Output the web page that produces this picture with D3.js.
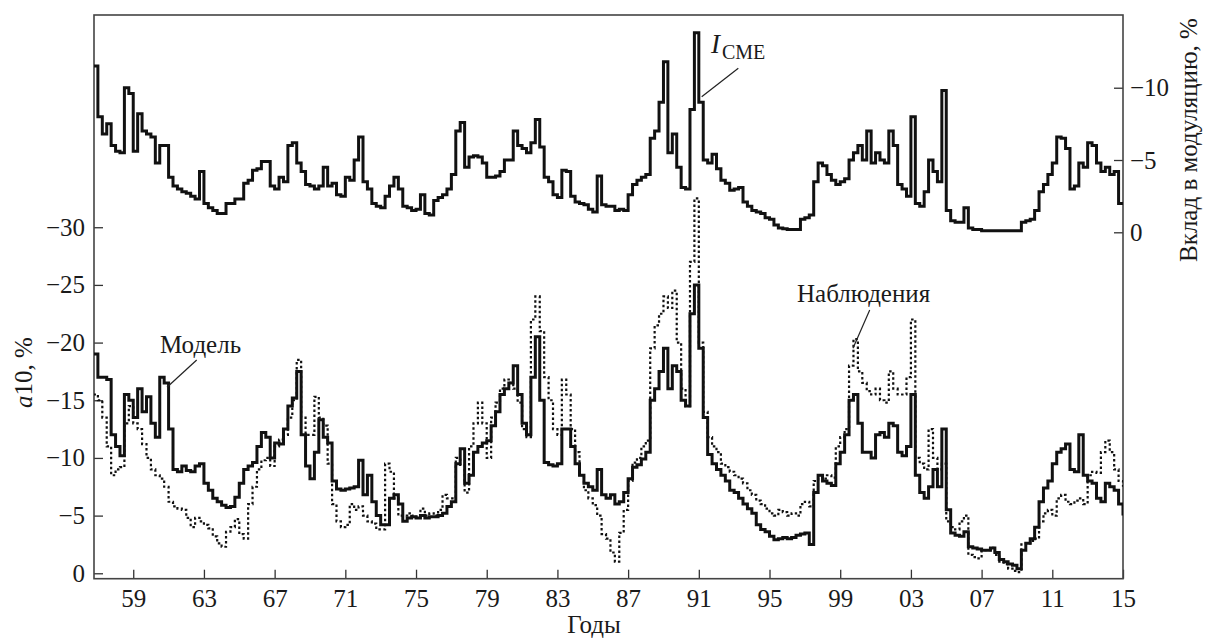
<!DOCTYPE html>
<html><head><meta charset="utf-8">
<script src="https://cdn.jsdelivr.net/npm/d3@7"></script>
<style>
body{margin:0;background:#fff}
svg text{font-family:"Liberation Serif","DejaVu Serif","Noto Serif","Times New Roman",Times,serif !important;fill:#1a1a1a}
</style>
</head><body>
<svg id="c" width="1208" height="641"></svg>
<script>
// ---- data (quarterly samples starting at 1956.75) ----
const startYear = 1956.75, stepYear = 0.25;
const modelValues = [
 -19.0,
 -17.0,-17.0,-16.8,-12.0,  -11.0,-10.2,-15.5,-15.0,  -13.5,-16.0,-14.0,-15.3,  -13.0,-11.8,-17.0,-16.5, // 57-60
 -12.5,-9.0,-8.8,-9.3,  -8.9,-8.8,-9.3,-9.5,  -7.8,-7.2,-6.5,-6.2,  -5.9,-5.7,-5.8,-6.6,               // 61-64
 -7.8,-9.0,-9.3,-9.6,  -11.0,-12.2,-11.8,-10.0,  -11.3,-11.2,-12.5,-14.5,  -15.2,-17.5,-12.0,-9.3,     // 65-68
 -8.2,-10.5,-13.3,-11.8,  -11.3,-8.0,-7.3,-7.2,  -7.3,-7.4,-7.5,-9.8,  -6.8,-8.5,-6.2,-5.0,           // 69-72
 -4.2,-4.2,-6.5,-6.8,  -6.0,-4.5,-4.8,-4.9,  -4.8,-5.0,-4.8,-4.9,  -4.9,-5.0,-5.2,-5.8,               // 73-76
 -6.2,-9.5,-10.8,-7.8,  -8.5,-10.5,-11.0,-11.3,  -11.5,-12.8,-14.0,-15.5,  -16.0,-16.5,-18.0,-15.5,   // 77-80
 -13.0,-12.0,-17.0,-20.5,  -15.0,-9.6,-9.4,-9.3,  -9.5,-12.5,-12.5,-11.0,  -9.5,-8.5,-7.8,-7.5,       // 81-84
 -7.2,-9.0,-6.8,-6.5,  -6.8,-6.0,-6.2,-7.0,  -8.2,-9.2,-9.4,-9.9,  -10.5,-15.0,-16.0,-17.5,          // 85-88
 -19.5,-16.0,-18.0,-17.5,  -15.0,-14.5,-22.5,-25.0,  -19.5,-13.5,-10.3,-9.5,  -9.0,-8.5,-8.0,-7.2,    // 89-92
 -7.0,-6.5,-6.0,-5.6,  -5.2,-4.2,-3.8,-3.6,  -3.2,-2.9,-3.0,-3.1,  -3.0,-3.1,-3.3,-3.4,               // 93-96
 -3.5,-2.5,-7.0,-8.5,  -8.0,-7.8,-7.6,-9.5,  -10.5,-12.0,-15.0,-15.5,  -13.0,-10.5,-10.5,-10.0,       // 97-00
 -12.0,-12.2,-11.8,-13.0,  -12.8,-10.5,-10.2,-11.0,  -15.5,-8.5,-7.0,-6.5,  -7.5,-9.0,-7.5,-12.5,     // 01-04
 -5.5,-3.5,-3.3,-3.2,  -3.6,-2.3,-2.2,-2.1,  -2.0,-2.0,-2.2,-1.8,  -1.2,-1.0,-0.8,-0.7,               // 05-08
 -0.4,-2.0,-2.6,-3.0,  -4.0,-6.2,-7.4,-8.0,  -9.5,-10.5,-10.8,-11.2,  -9.0,-8.8,-12.0,-8.5,          // 09-12
 -8.0,-7.8,-6.5,-6.2,  -7.8,-7.5,-7.2,-6.0,                                                           // 13-14
 -5.0
];
const obsValues = [
 -15.5,
 -15.0,-13.5,-11.0,-8.5,  -9.0,-9.2,-13.0,-14.5,  -13.0,-12.5,-11.2,-10.0,  -9.0,-8.5,-8.2,-7.5,
 -6.2,-5.8,-5.6,-5.5,  -4.8,-4.0,-4.8,-4.5,  -4.2,-3.9,-3.2,-2.6,  -2.3,-3.6,-4.0,-4.7,
 -3.4,-3.0,-6.0,-7.5,  -9.0,-9.8,-10.0,-9.3,  -11.0,-11.6,-12.0,-13.5,  -15.0,-18.5,-13.5,-12.0,
 -12.0,-15.3,-13.5,-12.8,  -9.5,-6.0,-4.5,-4.0,  -4.2,-6.0,-5.5,-5.8,  -5.0,-4.5,-4.3,-3.8,
 -3.8,-9.5,-8.8,-6.5,  -5.0,-5.0,-5.2,-5.0,  -4.9,-5.6,-5.0,-5.2,  -5.0,-5.5,-6.8,-6.5,
 -6.5,-10.0,-9.4,-7.0,  -11.0,-13.0,-14.8,-13.0,  -10.0,-13.5,-14.8,-16.0,  -16.8,-16.5,-16.0,-14.8,
 -12.5,-11.8,-22.0,-24.0,  -21.0,-17.0,-15.0,-12.5,  -12.0,-16.8,-15.5,-12.5,  -10.5,-8.5,-7.2,-6.5,
 -5.9,-5.0,-3.4,-3.0,  -1.8,-1.0,-3.5,-5.5,  -8.0,-9.6,-10.0,-11.0,  -11.5,-19.5,-21.5,-22.5,
 -24.0,-23.0,-24.5,-20.0,  -16.0,-14.5,-27.0,-32.5,  -20.0,-14.0,-11.8,-11.0,  -10.5,-9.5,-9.2,-8.8,
 -8.5,-8.2,-7.8,-7.2,  -6.8,-6.3,-6.0,-5.6,  -5.2,-5.0,-5.5,-5.3,  -5.0,-5.2,-5.0,-6.0,
 -6.2,-5.8,-8.0,-8.5,  -8.2,-8.5,-8.3,-11.0,  -11.8,-12.5,-18.0,-20.3,  -17.5,-16.5,-15.8,-15.5,
 -16.0,-15.0,-14.8,-17.5,  -16.0,-15.5,-15.5,-17.0,  -22.0,-10.0,-9.5,-9.0,  -12.5,-10.0,-9.0,-9.5,
 -4.5,-4.0,-3.8,-4.5,  -5.0,-1.6,-1.4,-1.3,  -2.0,-2.0,-2.2,-1.6,  -1.0,-0.8,-0.4,-0.2,
 -0.1,-2.5,-2.6,-2.8,  -3.0,-4.5,-5.2,-5.5,  -5.0,-6.5,-6.8,-6.2,  -6.0,-6.3,-6.5,-6.0,
 -8.5,-8.8,-8.7,-10.5,  -11.5,-10.5,-9.0,-8.0,
 -7.5
];
const cmeValues = [
 -11.5,
 -8.0,-6.8,-7.5,-6.0,  -5.6,-5.5,-10.0,-9.6,  -5.6,-8.2,-7.0,-6.8,  -6.6,-4.8,-6.0,-6.0,
 -3.8,-3.2,-3.0,-2.8,  -2.7,-2.5,-2.3,-4.2,  -2.0,-1.7,-1.5,-1.3,  -1.3,-2.0,-2.0,-2.3,
 -2.3,-3.4,-3.6,-4.3,  -4.4,-4.9,-4.9,-3.2,  -3.0,-3.8,-3.5,-6.0,  -6.2,-4.8,-4.2,-3.3,
 -3.2,-3.0,-3.2,-4.5,  -3.2,-3.4,-2.6,-2.5,  -3.8,-3.6,-5.0,-6.6,  -3.5,-3.0,-2.0,-1.8,
 -1.7,-2.5,-3.2,-3.8,  -3.0,-1.8,-1.7,-1.5,  -1.6,-2.6,-1.3,-1.2,  -2.2,-2.4,-2.6,-3.0,
 -4.0,-7.0,-7.6,-4.5,  -5.2,-5.3,-5.2,-4.8,  -3.8,-3.8,-3.9,-4.2,  -5.0,-5.0,-7.0,-6.0,
 -5.8,-5.5,-6.2,-7.8,  -5.9,-3.8,-3.5,-2.6,  -2.4,-4.3,-4.2,-2.5,  -2.1,-2.0,-1.9,-1.6,
 -1.4,-3.9,-1.9,-1.8,  -1.8,-1.5,-1.6,-1.5,  -2.6,-3.3,-3.6,-3.8,  -4.0,-6.5,-7.0,-9.0,
 -11.8,-5.5,-6.8,-4.5,  -3.1,-3.0,-8.5,-13.8,  -9.0,-5.0,-4.8,-5.4,  -4.4,-3.6,-3.4,-2.9,
 -3.0,-3.1,-2.1,-1.8,  -1.5,-1.4,-1.3,-1.0,  -0.9,-0.5,-0.3,-0.25,  -0.2,-0.2,-0.2,-0.9,
 -1.0,-1.2,-3.5,-4.8,  -4.6,-4.0,-3.6,-3.3,  -3.5,-3.7,-5.0,-5.5,  -6.0,-5.0,-7.0,-4.8,
 -5.5,-5.0,-4.8,-7.0,  -6.0,-3.3,-3.0,-2.5,  -8.0,-2.0,-1.8,-2.8,  -5.0,-4.2,-3.5,-9.8,
 -1.5,-0.8,-0.7,-0.7,  -1.7,-0.3,-0.2,-0.2,  -0.1,-0.1,-0.1,-0.1,  -0.1,-0.1,-0.1,-0.1,
 -0.1,-0.7,-0.8,-0.9,  -1.5,-2.8,-3.3,-4.0,  -4.8,-6.6,-6.5,-5.8,  -3.0,-3.2,-4.8,-4.5,
 -6.2,-6.0,-4.8,-4.2,  -4.5,-4.0,-4.2,-2.0,
 -1.9
];
const xTickYears = [1959,1963,1967,1971,1975,1979,1983,1987,1991,1995,1999,2003,2007,2011,2015];
const leftTicks = [0,-5,-10,-15,-20,-25,-30];
const rightTicks = [0,-5,-10];

const years = modelValues.map((_, i) => startYear + i * stepYear);

// ---- layout ----
const L = 94, R = 1123, T = 15, B = 578.7;
const SERIF = '"Liberation Serif","DejaVu Serif","Noto Serif","Times New Roman",Times,serif';
const svg = d3.select("#c").attr("font-family", SERIF);
const x = d3.scaleLinear().domain([1956.78, 2015]).range([L, R]);
const yL = d3.scaleLinear().domain([0.47, -48.4]).range([B, T]);
const yR = d3.scaleLinear().domain([23.96, -15.03]).range([B, T]);

svg.append("defs").append("clipPath").attr("id","clip")
  .append("rect").attr("x",L).attr("y",T).attr("width",R-L).attr("height",B-T);

const fmtNeg = d => d === 0 ? "0" : "\u2212" + Math.abs(d);
const FS = 25;

// bottom axis
const gx = svg.append("g").attr("transform",`translate(0,${B})`)
  .call(d3.axisBottom(x).tickValues(xTickYears).tickSize(-9).tickSizeOuter(0).tickPadding(10.5)
    .tickFormat(d => String(d % 100).padStart(2,"0")));
// left axis
const gl = svg.append("g").attr("transform",`translate(${L},0)`)
  .call(d3.axisLeft(yL).tickValues(leftTicks).tickSize(-9).tickSizeOuter(0).tickPadding(9).tickFormat(fmtNeg));
// right axis
const gr = svg.append("g").attr("transform",`translate(${R},0)`)
  .call(d3.axisRight(yR).tickValues(rightTicks).tickSize(-9).tickSizeOuter(0).tickPadding(7).tickFormat(fmtNeg));

[gx,gl,gr].forEach(g => {
  g.attr("font-family", SERIF).attr("font-size", FS);
  g.select(".domain").remove();
  g.selectAll(".tick line").attr("stroke","#333").attr("stroke-width",1.3);
  g.selectAll(".tick text").attr("font-size",FS).attr("font-family",SERIF).attr("fill","#1a1a1a");
});

// frame
svg.append("rect").attr("x",L).attr("y",T).attr("width",R-L).attr("height",B-T)
  .attr("fill","none").attr("stroke","#444").attr("stroke-width",1.6);

// lines
const plot = svg.append("g").attr("clip-path","url(#clip)");
const lineL = d3.line().x((d,i) => x(years[i])).y(d => yL(d)).curve(d3.curveStepAfter);
const lineR = d3.line().x((d,i) => x(years[i])).y(d => yR(d)).curve(d3.curveStepAfter);

plot.append("path").datum(obsValues).attr("d", lineL)
  .attr("fill","none").attr("stroke","#111").attr("stroke-width",2.2).attr("stroke-dasharray","2.5,2.5");
plot.append("path").datum(modelValues).attr("d", lineL)
  .attr("fill","none").attr("stroke","#111").attr("stroke-width",3);
plot.append("path").datum(cmeValues).attr("d", lineR)
  .attr("fill","none").attr("stroke","#111").attr("stroke-width",3);

// axis titles
svg.append("text").attr("x",594).attr("y",633).attr("text-anchor","middle").attr("font-size",FS).text("Годы");
const lt = svg.append("text").attr("transform","translate(32,372.5) rotate(-90)")
  .attr("text-anchor","middle").attr("font-size",FS);
lt.append("tspan").attr("font-style","italic").text("a");
lt.append("tspan").text("10, %");
svg.append("text").attr("transform","translate(1197,140) rotate(-90)")
  .attr("text-anchor","middle").attr("font-size",FS).text("Вклад в модуляцию, %");

// annotations
const ann = svg.append("g");
ann.append("text").attr("x",160).attr("y",353).attr("font-size",FS).text("Модель");
ann.append("line").attr("x1",196.7).attr("y1",360).attr("x2",167).attr("y2",387.3)
  .attr("stroke","#222").attr("stroke-width",1.2);
ann.append("text").attr("x",797).attr("y",302).attr("font-size",FS).text("Наблюдения");
ann.append("line").attr("x1",869.7).attr("y1",310).attr("x2",853).attr("y2",348.3)
  .attr("stroke","#222").attr("stroke-width",1.2);
const ic = ann.append("text").attr("x",711).attr("y",53).attr("font-size",27);
ic.append("tspan").attr("font-style","italic").text("I");
ic.append("tspan").attr("font-size",20).attr("dy",6).attr("dx",2).text("CME");
ann.append("line").attr("x1",738.3).attr("y1",68.3).attr("x2",701.7).attr("y2",96.7)
  .attr("stroke","#222").attr("stroke-width",1.2);
</script>
</body></html>
